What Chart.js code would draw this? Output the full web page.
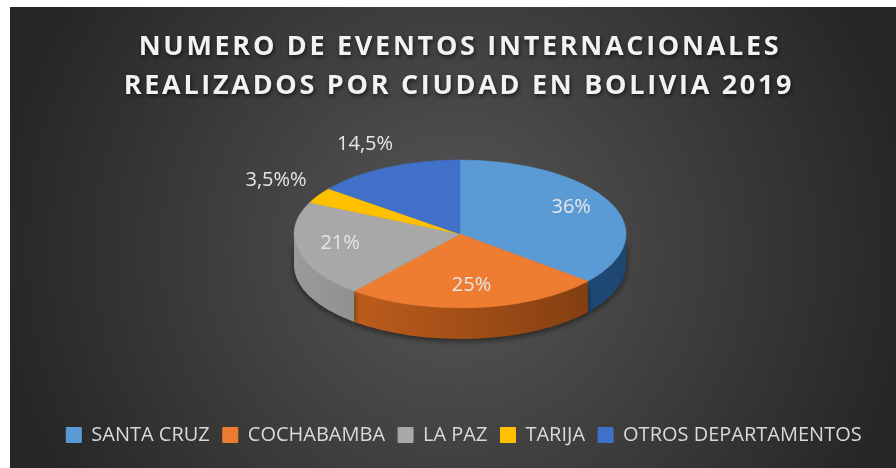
<!DOCTYPE html>
<html>
<head>
<meta charset="utf-8">
<script src="https://cdn.jsdelivr.net/npm/chart.js@4.4.0/dist/chart.umd.min.js"></script>
<style>
  html, body { margin: 0; padding: 0; background: #fff; }
  #wrap { width: 896px; height: 468px; }
</style>
</head>
<body>
<div id="wrap"><canvas id="pie" width="896" height="468"></canvas></div>
<script>
// === data ===
const ciudades = ['SANTA CRUZ', 'COCHABAMBA', 'LA PAZ', 'TARIJA', 'OTROS DEPARTAMENTOS'];
const porcentajes = [36, 25, 21, 3.5, 14.5];
const etiquetas = ['36%', '25%', '21%', '3,5%%', '14,5%'];
const tituloLineas = ['NUMERO DE EVENTOS INTERNACIONALES', 'REALIZADOS POR CIUDAD EN BOLIVIA 2019'];

// === look ===
const topColors = ['#5b9bd5', '#ee7d31', '#a8a8a8', '#ffc000', '#4170c8'];
const sideColors = [
  ['#2f6aa0', '#1d4670'],
  ['#cc6420', '#7a3a0e'],
  ['#9a9a9a', '#676767'],
  ['#d09c00', '#8a6800'],
  ['#3059a8', '#1f3b72']
];

// where the flattened pie sits on the canvas
const PIE = { cx: 460, cy: 234, rx: 166, ry: 74, depth: 31 };

// background: white margin + dark radial fill
const fondo = {
  id: 'fondo',
  beforeDraw(chart) {
    const ctx = chart.ctx;
    ctx.save();
    ctx.fillStyle = '#ffffff';
    ctx.fillRect(0, 0, chart.width, chart.height);
    const g = ctx.createRadialGradient(455, 250, 0, 455, 250, 470);
    g.addColorStop(0, '#575757');
    g.addColorStop(1, '#252525');
    ctx.fillStyle = g;
    ctx.fillRect(10, 7, chart.width - 10, chart.height - 7);

    // title, two lines, spaced caps
    ctx.font = 'bold 27px "Open Sans"';
    ctx.letterSpacing = '2.7px';
    ctx.textAlign = 'center';
    ctx.textBaseline = 'middle';
    ctx.fillStyle = '#f2f2f2';
    ctx.shadowColor = 'rgba(0,0,0,0.65)';
    ctx.shadowBlur = 4;
    ctx.shadowOffsetX = 1;
    ctx.shadowOffsetY = 2;
    ctx.fillText(tituloLineas[0], 460, 47);
    ctx.fillText(tituloLineas[1], 459, 86);
    ctx.restore();
  }
};

// sides of the pie, then squash the top face into an ellipse
const pie3d = {
  id: 'pie3d',
  beforeDatasetsDraw(chart) {
    const ctx = chart.ctx;
    const arcs = chart.getDatasetMeta(0).data;
    const front = [0, Math.PI];

    ctx.save();
    ctx.shadowColor = 'rgba(0,0,0,0.55)';
    ctx.shadowBlur = 6;
    ctx.shadowOffsetY = 2;
    arcs.forEach((a, i) => {
      const s = Math.max(a.startAngle, front[0]);
      const e = Math.min(a.endAngle, front[1]);
      if (e <= s) return;
      const g = ctx.createLinearGradient(PIE.cx - PIE.rx, 0, PIE.cx + PIE.rx, 0);
      g.addColorStop(0, sideColors[i][0]);
      g.addColorStop(1, sideColors[i][1]);
      ctx.beginPath();
      ctx.ellipse(PIE.cx, PIE.cy, PIE.rx, PIE.ry, 0, s, e);
      ctx.ellipse(PIE.cx, PIE.cy + PIE.depth, PIE.rx, PIE.ry, 0, e, s, true);
      ctx.closePath();
      ctx.fillStyle = g;
      ctx.fill();
    });
    ctx.restore();

    const a0 = arcs[0];
    const r = a0.outerRadius;
    ctx.save();
    ctx.translate(PIE.cx, PIE.cy);
    ctx.scale(PIE.rx / r, PIE.ry / r);
    ctx.translate(-a0.x, -a0.y);
  },
  afterDatasetsDraw(chart) {
    const ctx = chart.ctx;
    ctx.restore();

    // data labels, inside the big slices, above the small ones
    const arcs = chart.getDatasetMeta(0).data;
    ctx.save();
    ctx.font = '20px "Open Sans"';
    ctx.fillStyle = '#e6e6e6';
    ctx.textAlign = 'center';
    ctx.textBaseline = 'middle';
    arcs.forEach((a, i) => {
      const mid = (a.startAngle + a.endAngle) / 2;
      const f = porcentajes[i] < 15 ? 1.3 : 0.74;
      const x = PIE.cx + PIE.rx * f * Math.cos(mid);
      const y = PIE.cy - 3 + PIE.ry * f * Math.sin(mid);
      ctx.fillText(etiquetas[i], x, y);
    });
    ctx.restore();
  }
};

new Chart(document.getElementById('pie'), {
  type: 'pie',
  data: {
    labels: ciudades,
    datasets: [{
      data: porcentajes,
      backgroundColor: topColors,
      borderColor: topColors,
      borderWidth: 1,
      clip: false
    }]
  },
  options: {
    responsive: false,
    animation: false,
    layout: { padding: { bottom: 13, left: 32 } },
    plugins: {
      legend: {
        position: 'bottom',
        labels: {
          color: '#d9d9d9',
          font: { family: '"Open Sans"', size: 20 },
          boxWidth: 15,
          boxHeight: 15,
          padding: 13
        }
      },
      tooltip: { enabled: false }
    }
  },
  plugins: [fondo, pie3d]
});
</script>
</body>
</html>
